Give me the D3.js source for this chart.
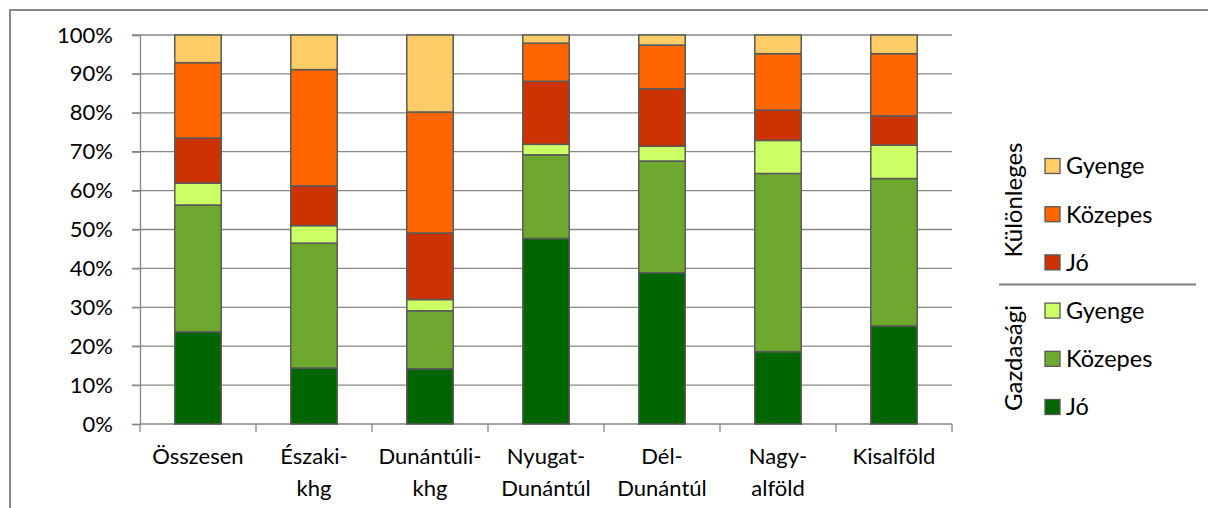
<!DOCTYPE html>
<html><head><meta charset="utf-8">
<script src="https://cdn.jsdelivr.net/npm/d3@7/dist/d3.min.js"></script>
<style>
html,body{margin:0;padding:0;background:#fff;}
svg{display:block;font-family:Lato,"Open Sans",sans-serif;}
</style></head>
<body><svg id="c" width="1208" height="508"></svg>
<script>
const categories = [["Összesen"],["Északi-","khg"],["Dunántúli-","khg"],["Nyugat-","Dunántúl"],["Dél-","Dunántúl"],["Nagy-","alföld"],["Kisalföld"]];
const seriesNames = ["Gazdasági Jó","Gazdasági Közepes","Gazdasági Gyenge","Különleges Jó","Különleges Közepes","Különleges Gyenge"];
const gazdasagiJo       = [23.7, 14.4, 14.2, 47.7, 38.9, 18.6, 25.2];
const gazdasagiKozepes  = [32.6, 32.1, 14.9, 21.5, 28.7, 45.8, 37.9];
const gazdasagiGyenge   = [ 5.6,  4.5,  2.9,  2.7,  3.8,  8.5,  8.6];
const kulonlegesJo      = [11.6, 10.2, 17.1, 16.2, 14.8,  7.8,  7.5];
const kulonlegesKozepes = [19.4, 29.9, 31.1,  9.8, 11.2, 14.5, 16.0];
const kulonlegesGyenge  = [ 7.1,  8.9, 19.8,  2.1,  2.6,  4.8,  4.8];
const colors = ["#006600","#6fa82f","#ccff66","#cc3300","#ff6600","#ffcc66"];
const yTicks = [0,10,20,30,40,50,60,70,80,90,100];
const legendGroups = ["Különleges","Gazdasági"];
const legendLabels = ["Jó","Közepes","Gyenge"];

const seriesVals = [gazdasagiJo,gazdasagiKozepes,gazdasagiGyenge,kulonlegesJo,kulonlegesKozepes,kulonlegesGyenge];
const rows = categories.map((c,i)=>{const r={cat:i}; seriesNames.forEach((s,k)=>r[s]=seriesVals[k][i]); return r;});
rows.forEach(r=>{const t=d3.sum(seriesNames,s=>r[s]); seriesNames.forEach(s=>r[s]=r[s]/t*100);});
const stack = d3.stack().keys(seriesNames)(rows);

const svg = d3.select("#c");
const L=140,R=952,T=35,B=424;
const x = d3.scaleBand().domain(d3.range(categories.length)).range([L,R]).paddingInner(0.6).paddingOuter(0.3);
const xb = d3.scaleLinear().domain([0,categories.length]).range([L,R]);
const y = d3.scaleLinear().domain([0,100]).range([B,T]);

svg.append("path").attr("d","M10,508 L10,10 L1208,10").attr("fill","none").attr("stroke","#878787").attr("stroke-width",2);

svg.append("g").selectAll("line").data(yTicks.filter(t=>t>0)).join("line")
  .attr("x1",L-8).attr("x2",R).attr("y1",d=>y(d)).attr("y2",d=>y(d))
  .attr("stroke","#878787").attr("stroke-width",1.3);

const ya = svg.append("g").attr("transform",`translate(${L},0)`).call(d3.axisLeft(y).tickValues(yTicks).tickFormat(d=>d+"%").tickSize(8).tickPadding(19));
ya.select(".domain").attr("stroke","#878787").attr("stroke-width",1.3);
ya.selectAll(".tick line").attr("stroke","#878787").attr("stroke-width",1.3);
ya.selectAll("text").attr("font-size",22).attr("font-family","Lato").attr("fill","#000");

svg.append("line").attr("x1",L).attr("x2",R).attr("y1",B).attr("y2",B).attr("stroke","#878787").attr("stroke-width",1.3);
svg.append("g").selectAll("line").data(d3.range(categories.length+1)).join("line")
  .attr("x1",d=>xb(d)).attr("x2",d=>xb(d)).attr("y1",B).attr("y2",B+8)
  .attr("stroke","#878787").attr("stroke-width",1.3);

svg.append("g").selectAll("g").data(stack).join("g").attr("fill",(d,i)=>colors[i])
  .selectAll("rect").data(d=>d).join("rect")
  .attr("x",d=>x(d.data.cat)).attr("width",x.bandwidth())
  .attr("y",d=>y(d[1])).attr("height",d=>y(d[0])-y(d[1]))
  .attr("stroke","#595959").attr("stroke-width",1.5);

const xl = svg.append("g").selectAll("text").data(categories).join("text")
  .attr("x",(d,i)=>x(i)+x.bandwidth()/2).attr("y",464)
  .attr("text-anchor","middle").attr("font-size",22).attr("fill","#000");
xl.selectAll("tspan").data(d=>d).join("tspan")
  .attr("x",function(){return this.parentNode.getAttribute("x");})
  .attr("dy",(d,i)=>i?32:0).text(d=>d);

const legItems = [5,4,3,2,1,0];
const ly = d3.scaleLinear().domain([0,5]).range([166,407]);
const lg = svg.append("g");
legItems.forEach((s,i)=>{
  lg.append("rect").attr("x",1045).attr("y",ly(i)-7.5).attr("width",15).attr("height",15)
    .attr("fill",colors[s]).attr("stroke","#595959").attr("stroke-width",1.3);
  lg.append("text").attr("x",1066).attr("y",ly(i)).attr("dy","0.36em").attr("font-size",23.5).attr("fill","#000")
    .text(legendLabels[s%3]);
});
lg.append("line").attr("x1",999).attr("x2",1196).attr("y1",284.5).attr("y2",284.5).attr("stroke","#808080").attr("stroke-width",2);
[[legendGroups[0],200],[legendGroups[1],358]].forEach(([t,cy])=>{
  lg.append("text").attr("transform",`translate(1013,${cy}) rotate(-90)`).attr("text-anchor","middle")
    .attr("dy","0.36em").attr("font-size",24).attr("fill","#000").text(t);
});
</script></body></html>
